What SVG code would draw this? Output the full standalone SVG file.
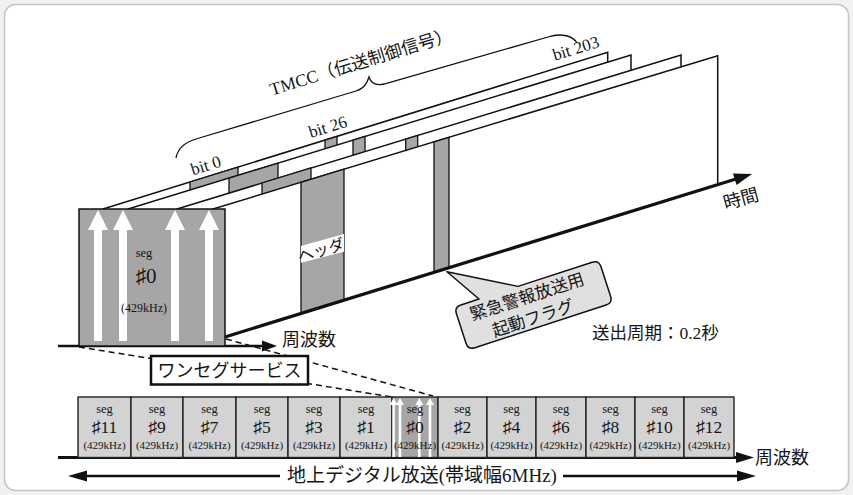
<svg xmlns="http://www.w3.org/2000/svg" width="853" height="495" viewBox="0 0 853 495">
<style>
.t{font-family:"Liberation Serif","Noto Sans CJK JP",serif;fill:#151515}
.j{font-family:"Liberation Serif","Noto Sans CJK JP",sans-serif;fill:#151515}
.pan{fill:#fff;stroke:#111;stroke-width:1.5;stroke-linejoin:miter}
.gc{fill:#a6a6a6;stroke:#111;stroke-width:1.3}
.cell{fill:#d3d3d3;stroke:#222;stroke-width:1.4}
.ax{stroke:#111;fill:none}
.ah{fill:#111}
.dash{stroke:#111;stroke-width:1.5;stroke-dasharray:6 4;fill:none}
.wa{fill:#fff}
</style>
<rect x="0" y="0" width="853" height="495" fill="#f1f1f1"/>
<rect x="4.5" y="4.5" width="844" height="486" rx="11" fill="#fff" stroke="#c4c4c4" stroke-width="1.5"/>

<g id="brace">
<path d="M176,158 C178,147 186,142 196,139 L356,91 C363,89 367,84 369,77 C371,83 376,86 384,84 L548,37 C560,33 572,35 577,43" fill="none" stroke="#111" stroke-width="1.3"/>
<text class="j" font-size="17.5" text-anchor="middle" transform="translate(361,62) rotate(-17)" y="6">TMCC（伝送制御信号）</text>
</g>

<g id="panel1">
<polygon class="pan" points="103,209 607.7,52.3 607.7,180.3 103,337"/>
<polygon class="gc" points="190,182 238,167.1 238,295.1 190,310"/>
<polygon class="gc" points="325,140.1 337,136.3 337,264.3 325,268.1"/>
</g>
<g id="panel2">
<polygon class="pan" points="128,209 631,55 631,183 128,337"/>
<polygon class="gc" points="229,178.1 278,163.1 278,291.1 229,306.1"/>
<polygon class="gc" points="353,140.1 365,136.4 365,264.4 353,268.1"/>
</g>
<g id="panel3">
<polygon class="pan" points="177,209 681,55 681,183 177,337"/>
<polygon class="gc" points="262,183 311,168 311,296 262,311"/>
<polygon class="gc" points="405.7,139.1 417.7,135.4 417.7,263.4 405.7,267.1"/>
</g>
<g id="panel4">
<polygon class="pan" points="213,209 717.7,55.7 717.7,184.5 213,340.7"/>
<polygon class="gc" points="301,182.3 344,169.2 344,300.2 301,313.5"/>
<polygon class="gc" points="434,141.9 449,137.3 449,267.7 434,272.4"/>
<polygon points="301,246 344,234 344,251.7 301,262.7" fill="#fff"/>
<text class="j" font-size="16" text-anchor="middle" transform="translate(321,250) rotate(-17)" y="6">ヘッダ</text>
</g>

<g id="bit-labels">
<text class="t" font-size="17" text-anchor="middle" transform="translate(206,166) rotate(-17)" y="5">bit 0</text>
<text class="t" font-size="17" text-anchor="middle" transform="translate(328,127.5) rotate(-17)" y="5">bit 26</text>
<text class="t" font-size="17" text-anchor="middle" transform="translate(576,49) rotate(-17)" y="5">bit 203</text>
</g>

<g id="connectors">
<line class="dash" x1="79" y1="347" x2="392" y2="397"/>
<line class="dash" x1="226" y1="339" x2="433" y2="396"/>
<line class="ax" x1="225" y1="337" x2="740" y2="177.7" stroke-width="3.2"/>
<polygon class="ah" points="752,174 736.6,185 733,173.6"/>
<line class="ax" x1="58" y1="346" x2="264" y2="346" stroke-width="2.6"/>
<polygon class="ah" points="262,340.5 277,346 262,351.5"/>
<line class="ax" x1="58" y1="457.5" x2="740" y2="457.5" stroke-width="3"/>
<polygon class="ah" points="736,452 754,457.5 736,463"/>
<line class="ax" x1="80" y1="476" x2="280" y2="476" stroke-width="2.6"/>
<line class="ax" x1="562" y1="476" x2="742" y2="476" stroke-width="2.6"/>
<polygon class="ah" points="68,476 87,470.5 87,481.5"/>
<polygon class="ah" points="756,476 737,470.5 737,481.5"/>
</g>

<g id="seg0-front">
<rect x="79" y="209" width="146" height="137" fill="#a6a6a6" stroke="#111" stroke-width="1.5"/>
<g class="wa">
<rect x="94" y="229" width="8" height="112"/><polygon points="98,210 108,230 88,230"/>
<rect x="119" y="229" width="8" height="112"/><polygon points="123,210 133,230 113,230"/>
<rect x="171" y="229" width="8" height="112"/><polygon points="175,210 185,230 165,230"/>
<rect x="205" y="229" width="8" height="112"/><polygon points="209,210 219,230 199,230"/>
</g>
<text class="t" font-size="12.5" text-anchor="middle" x="144" y="256.5">seg</text>
<text class="t" font-size="21" text-anchor="middle" x="146" y="283">♯0</text>
<text class="t" font-size="12" text-anchor="middle" x="144" y="312">(429kHz)</text>
</g>

<g id="time-label">
<text class="j" font-size="18" text-anchor="middle" transform="translate(741,199) rotate(-15)" y="6">時間</text>
</g>
<text class="j" font-size="18" x="282" y="346">周波数</text>

<g id="callout" transform="translate(533.5,305) rotate(-18)">
<path d="M-50,-22.5 L-72,-58.4 L-9,-22.5 L69,-22.5 Q76,-22.5 76,-15.5 L76,15.5 Q76,22.5 69,22.5 L-69,22.5 Q-76,22.5 -76,15.5 L-76,-15.5 Q-76,-22.5 -69,-22.5 Z" fill="#e0e0e0" stroke="#111" stroke-width="1.5" stroke-linejoin="round"/>
<text class="j" font-size="17" text-anchor="middle" x="-3.5" y="-4">緊急警報放送用</text>
<text class="j" font-size="17" text-anchor="middle" x="-4.6" y="18.4">起動フラグ</text>
</g>

<text class="j" font-size="17.5" x="592" y="339">送出周期：0.2秒</text>

<g id="oneseg-box">
<rect x="151" y="356" width="157" height="28.5" fill="#fff" stroke="#111" stroke-width="2.5"/>
<text class="j" font-size="18" text-anchor="middle" x="229.5" y="376.5">ワンセグサービス</text>
</g>

<g id="segments">
<rect class="cell" x="78" y="397" width="53" height="60.5"/>
<rect class="cell" x="131" y="397" width="52" height="60.5"/>
<rect class="cell" x="183" y="397" width="53" height="60.5"/>
<rect class="cell" x="236" y="397" width="52" height="60.5"/>
<rect class="cell" x="288" y="397" width="52" height="60.5"/>
<rect class="cell" x="340" y="397" width="52" height="60.5"/>
<rect x="392" y="397" width="46" height="60.5" fill="#a6a6a6" stroke="#222" stroke-width="1.4"/>
<rect class="cell" x="438" y="397" width="49" height="60.5"/>
<rect class="cell" x="487" y="397" width="49" height="60.5"/>
<rect class="cell" x="536" y="397" width="50" height="60.5"/>
<rect class="cell" x="586" y="397" width="49" height="60.5"/>
<rect class="cell" x="635" y="397" width="49" height="60.5"/>
<rect class="cell" x="684" y="397" width="50" height="60.5"/>
<g class="wa">
<rect x="392.3" y="403" width="2.6" height="54"/><polygon points="393.6,398 397.6,405 389.6,405"/>
<rect x="398.7" y="403" width="2.6" height="54"/><polygon points="400,398 404,405 396,405"/>
<rect x="418" y="403" width="2.6" height="54"/><polygon points="419.3,398 423.3,405 415.3,405"/>
<rect x="428.7" y="403" width="2.6" height="54"/><polygon points="430,398 434,405 426,405"/>
</g>
<g class="t" text-anchor="middle">
<g font-size="12.5">
<text x="104.5" y="413">seg</text><text x="157" y="413">seg</text><text x="209.5" y="413">seg</text><text x="262" y="413">seg</text><text x="314" y="413">seg</text><text x="366" y="413">seg</text><text x="415" y="413">seg</text><text x="462.5" y="413">seg</text><text x="511.5" y="413">seg</text><text x="561" y="413">seg</text><text x="610.5" y="413">seg</text><text x="659.5" y="413">seg</text><text x="709" y="413">seg</text>
</g>
<g font-size="17.5">
<text x="104.5" y="433">♯11</text><text x="157" y="433">♯9</text><text x="209.5" y="433">♯7</text><text x="262" y="433">♯5</text><text x="314" y="433">♯3</text><text x="366" y="433">♯1</text><text x="415" y="433">♯0</text><text x="462.5" y="433">♯2</text><text x="511.5" y="433">♯4</text><text x="561" y="433">♯6</text><text x="610.5" y="433">♯8</text><text x="659.5" y="433">♯10</text><text x="709" y="433">♯12</text>
</g>
<g font-size="11">
<text x="104.5" y="449">(429kHz)</text><text x="157" y="449">(429kHz)</text><text x="209.5" y="449">(429kHz)</text><text x="262" y="449">(429kHz)</text><text x="314" y="449">(429kHz)</text><text x="366" y="449">(429kHz)</text><text x="415" y="449">(429kHz)</text><text x="462.5" y="449">(429kHz)</text><text x="511.5" y="449">(429kHz)</text><text x="561" y="449">(429kHz)</text><text x="610.5" y="449">(429kHz)</text><text x="659.5" y="449">(429kHz)</text><text x="709" y="449">(429kHz)</text>
</g>
</g>
</g>

<text class="j" font-size="18" x="755" y="464">周波数</text>
<g id="band-label">
<rect x="281" y="464" width="282" height="22" fill="#fff"/>
<text class="j" font-size="19" text-anchor="middle" x="422" y="482">地上デジタル放送(帯域幅6MHz)</text>
</g>
</svg>
